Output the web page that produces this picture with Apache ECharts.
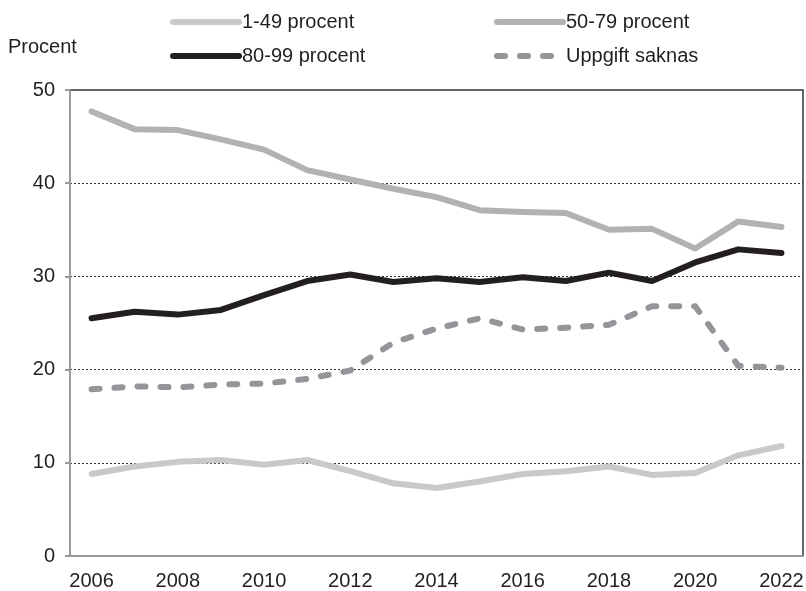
<!DOCTYPE html>
<html>
<head>
    <meta charset="utf-8">
    <title>Procent</title>
    <script src="https://cdn.jsdelivr.net/npm/echarts@6/dist/echarts.min.js"></script>
    <style>
        body { margin: 0; background: #fff; }
    </style>
</head>
<body>
<div id="main" style="width: 806px;height:591px;"></div>
<script type="text/javascript">
    // data
    var years = ['2006','2007','2008','2009','2010','2011','2012','2013','2014',
                 '2015','2016','2017','2018','2019','2020','2021','2022'];
    var p1_49  = [8.8, 9.6, 10.1, 10.3, 9.8, 10.3, 9.1, 7.8, 7.3, 8.0, 8.8, 9.1, 9.6, 8.7, 8.9, 10.8, 11.8];
    var p50_79 = [47.7, 45.8, 45.7, 44.7, 43.6, 41.4, 40.4, 39.4, 38.5, 37.1, 36.9, 36.8, 35.0, 35.1, 33.0, 35.9, 35.3];
    var p80_99 = [25.5, 26.2, 25.9, 26.4, 28.0, 29.5, 30.2, 29.4, 29.8, 29.4, 29.9, 29.5, 30.4, 29.5, 31.5, 32.9, 32.5];
    var saknas = [17.9, 18.2, 18.1, 18.4, 18.5, 19.0, 19.9, 22.9, 24.4, 25.5, 24.3, 24.5, 24.8, 26.8, 26.8, 20.4, 20.2];
    var yTicks = [0, 10, 20, 30, 40, 50];

    var font = 'Liberation Sans, Arial, sans-serif';
    var myChart = echarts.init(document.getElementById('main'));

    function line(name, data, color, type) {
        return {
            name: name,
            type: 'line',
            data: data,
            symbol: 'none',
            showSymbol: false,
            lineStyle: {color: color, width: 6, cap: 'round', join: 'round', type: type || 'solid'},
            itemStyle: {color: color}
        };
    }

    var legendBase = {
        orient: 'vertical',
        top: 7,
        itemWidth: 66,
        itemHeight: 14,
        itemGap: 14,
        itemStyle: {opacity: 0},
        lineStyle: {width: 6, cap: 'round'},
        textStyle: {fontFamily: font, fontSize: 20, color: '#231f20', padding: [0, 0, 0, -2]}
    };

    var option = {
        animation: false,
        textStyle: {fontFamily: font},
        graphic: [{
            type: 'text', left: 8, top: 37,
            style: {text: 'Procent', fontFamily: font, fontSize: 20, fill: '#231f20'}
        }],
        legend: [
            Object.assign({}, legendBase, {left: 165, data: ['1-49 procent', '80-99 procent']}),
            Object.assign({}, legendBase, {left: 489, data: ['50-79 procent', 'Uppgift saknas']})
        ],
        grid: {
            left: 70, right: 3, top: 90, bottom: 35,
            outerBoundsMode: 'none',
            show: true, borderColor: '#333', borderWidth: 1.5
        },
        xAxis: {
            type: 'category',
            data: years,
            boundaryGap: true,
            axisLine: {lineStyle: {color: '#9a9a9a', width: 2}},
            axisTick: {interval: 0, length: 5, lineStyle: {color: '#9a9a9a', width: 2}},
            axisLabel: {interval: 1, margin: 15, fontSize: 20, color: '#231f20', fontFamily: font}
        },
        yAxis: {
            type: 'value',
            min: yTicks[0],
            max: yTicks[yTicks.length - 1],
            interval: 10,
            axisLine: {show: true, lineStyle: {color: '#9a9a9a', width: 2}},
            axisTick: {show: true, length: 5, lineStyle: {color: '#9a9a9a', width: 2}},
            axisLabel: {margin: 15, fontSize: 20, color: '#231f20', fontFamily: font},
            splitLine: {show: true, showMinLine: false, showMaxLine: false,
                        lineStyle: {color: '#333', width: 1, type: [2, 2]}}
        },
        series: [
            line('1-49 procent', p1_49, '#c8c9ca'),
            line('50-79 procent', p50_79, '#b1b2b4'),
            line('80-99 procent', p80_99, '#231f20'),
            line('Uppgift saknas', saknas, '#939598', [8, 15])
        ]
    };

    myChart.setOption(option);
</script>
</body>
</html>
